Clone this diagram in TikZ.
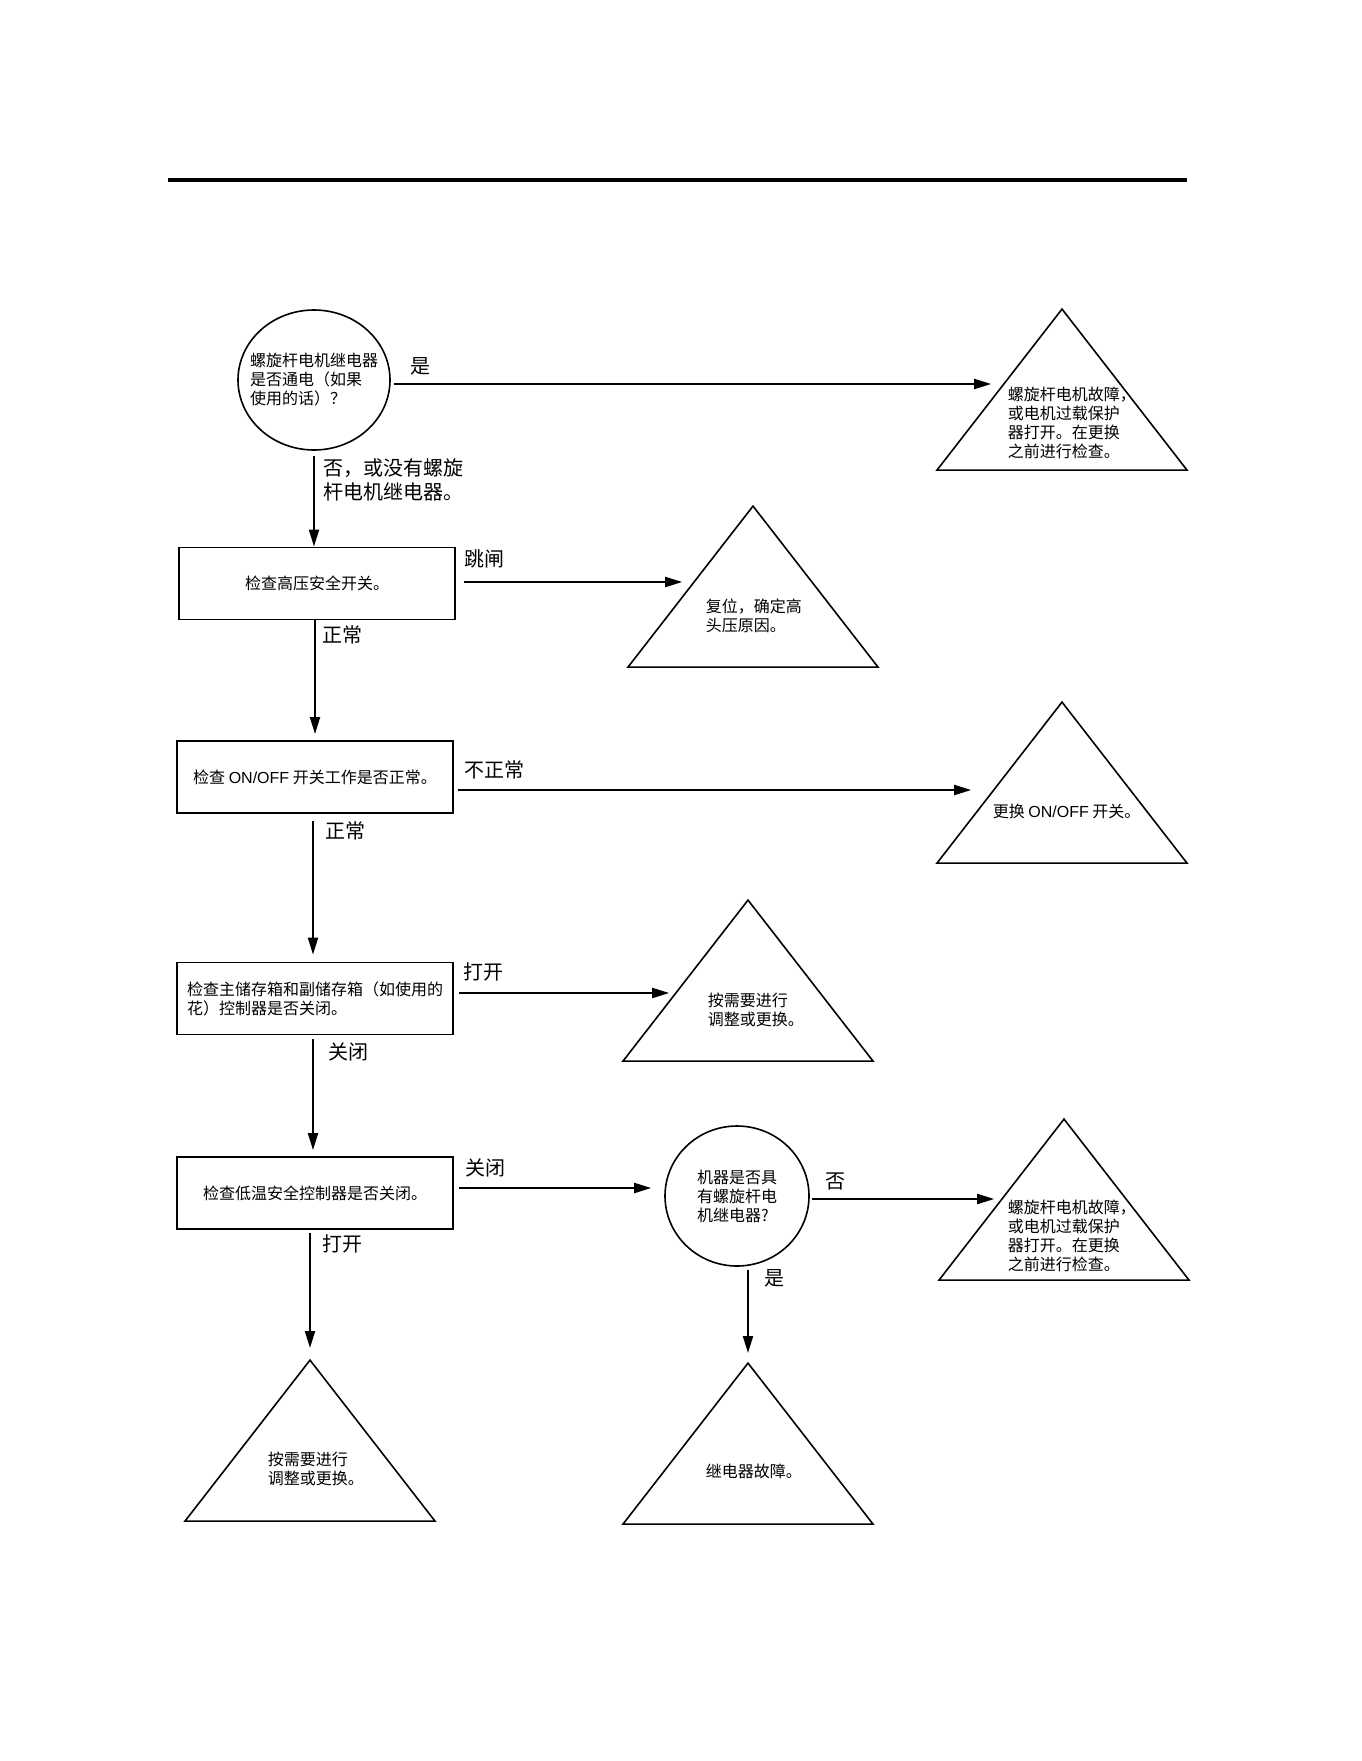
\documentclass[tikz,border=0pt]{standalone}
\usepackage{fontspec}
\newfontfamily\cjk{Noto Sans CJK SC}
\newfontfamily\arial{Liberation Sans}
\usetikzlibrary{shapes.geometric,arrows.meta,calc}
\tikzset{every picture/.style={line width=1.6pt}}
\tikzset{
smalltext/.style={inner sep=0pt, align=left, font=\cjk\fontsize{16}{19}\selectfont},
branch/.style={inner sep=0pt, align=left, font=\cjk\fontsize{20}{24}\selectfont},
decision/.style={ellipse, draw, line width=1.6pt, inner sep=0pt},
checkbox/.style={rectangle, draw, line width=1.8pt, minimum width=276pt, minimum height=72pt, inner sep=0pt, align=left, font=\cjk\fontsize{16}{19}\selectfont},
endtri/.style={isosceles triangle, draw, line width=1.6pt, shape border rotate=90, isosceles triangle stretches, minimum width=250pt, minimum height=161pt, inner sep=0pt, anchor=apex},
flow/.style={-{Triangle[length=17pt,width=10pt]}, line width=2pt}
}

\begin{document}
\begin{tikzpicture}[x=1pt,y=1pt,yscale=-1,xscale=1]
\useasboundingbox (0,0) rectangle (1361,1761);

%Straight Lines [id:rule]
\draw [line width=3.5pt] (168,180) -- (1187,180) ;

%Shape: Ellipse [id:q1]
\node [decision, minimum width=152pt, minimum height=140pt] (q1) at (314,380) {};
\node [smalltext] (q1txt) at (q1) {螺旋杆电机继电器\\是否通电（如果\\使用的话）？};
%Shape: Ellipse [id:q2]
\node [decision, minimum width=144pt, minimum height=140pt] (q2) at (737,1196) {};
\node [smalltext] (q2txt) at (q2) {机器是否具\\有螺旋杆电\\机继电器?};

%Shape: Rectangle [id:b1..b4]
\node [checkbox] (b1) at (317,583.5) {检查高压安全开关。};
\node [checkbox] (b2) at (315,777) {检查 {\arial ON/OFF} 开关工作是否正常。};
\node [checkbox] (b3) at (315,998.5) {检查主储存箱和副储存箱（如使用的\\花）控制器是否关闭。};
\node [checkbox] (b4) at (315,1193) {检查低温安全控制器是否关闭。};

%Shape: Triangle [id:t1..t7]
\node [endtri] (t1) at (1062,307) {};
\node [endtri] (t2) at (753,504) {};
\node [endtri] (t3) at (1062,700) {};
\node [endtri] (t4) at (748,898) {};
\node [endtri] (t5) at (1064,1117) {};
\node [endtri] (t6) at (748,1361) {};
\node [endtri] (t7) at (310,1358) {};

% Text Node
\node [smalltext, anchor=west] (t1txt) at (1007,423) {螺旋杆电机故障，\\或电机过载保护\\器打开。在更换\\之前进行检查。};
\node [smalltext, anchor=west] (t2txt) at (705,616) {复位，确定高\\头压原因。};
\node [smalltext, anchor=west] (t3txt) at (992,811) {更换 {\arial ON/OFF} 开关。};
\node [smalltext, anchor=west] (t4txt) at (707,1010) {按需要进行\\调整或更换。};
\node [smalltext, anchor=west] (t5txt) at (1007,1236) {螺旋杆电机故障，\\或电机过载保护\\器打开。在更换\\之前进行检查。};
\node [smalltext, anchor=west] (t6txt) at (705,1471) {继电器故障。};
\node [smalltext, anchor=west] (t7txt) at (267,1469) {按需要进行\\调整或更换。};

%Straight Lines [id:arrows]
\coordinate (s1) at ($(q1.east)+(3,4)$);
\draw [flow] (s1) -- ($(s1 -| t1.left side)+(-7.5,0)$) ;
\draw [flow] ($(q1.south)+(0,5)$) -- (q1.south |- b1.north) ;
\coordinate (s3) at ($(b1.east)+(8,-1.5)$);
\draw [flow] (s3) -- ($(s3 -| t2.left side)+(-7.5,0)$) ;
\draw [flow] (b2.north |- b1.south) -- ($(b2.north)+(0,-6)$) ;
\coordinate (s5) at ($(b2.east)+(4,13)$);
\draw [flow] (s5) -- ($(s5 -| t3.left side)+(-27.5,0)$) ;
\draw [flow] ($(b2.south)+(-2,7)$) -- ($(b3.north)+(-2,-7)$) ;
\coordinate (s7) at ($(b3.east)+(5,-5.5)$);
\draw [flow] (s7) -- ($(s7 -| t4.left side)+(-15.5,0)$) ;
\draw [flow] ($(b3.south)+(-2,4)$) -- ($(b4.north)+(-2,-6)$) ;
\coordinate (s9) at ($(b4.east)+(5,-5)$);
\draw [flow] (s9) -- ($(s9 -| q2.west)+(-13,0)$) ;
\draw [flow] ($(t7.apex |- b4.south)+(0,3)$) -- ($(t7.apex)+(0,-10)$) ;
\coordinate (s11) at ($(q2.east)+(2,3)$);
\draw [flow] (s11) -- ($(s11 -| t5.left side)+(-6.5,0)$) ;
\draw [flow] ($(t6.apex |- q2.south)+(0,3)$) -- ($(t6.apex)+(0,-8)$) ;

% Text Node
\node [branch, anchor=west] (l1) at (410,366) {是};
\node [branch, anchor=west] (l2) at (323,480) {否，或没有螺旋\\杆电机继电器。};
\node [branch, anchor=west] (l3) at (464,559) {跳闸};
\node [branch, anchor=west] (l4) at (322,635) {正常};
\node [branch, anchor=west] (l5) at (464,770) {不正常};
\node [branch, anchor=west] (l6) at (325,831) {正常};
\node [branch, anchor=west] (l7) at (463,972) {打开};
\node [branch, anchor=west] (l8) at (328,1052) {关闭};
\node [branch, anchor=west] (l9) at (465,1168) {关闭};
\node [branch, anchor=west] (l10) at (322,1244) {打开};
\node [branch, anchor=west] (l11) at (825,1181) {否};
\node [branch, anchor=west] (l12) at (764,1278) {是};
\end{tikzpicture}
\end{document}
